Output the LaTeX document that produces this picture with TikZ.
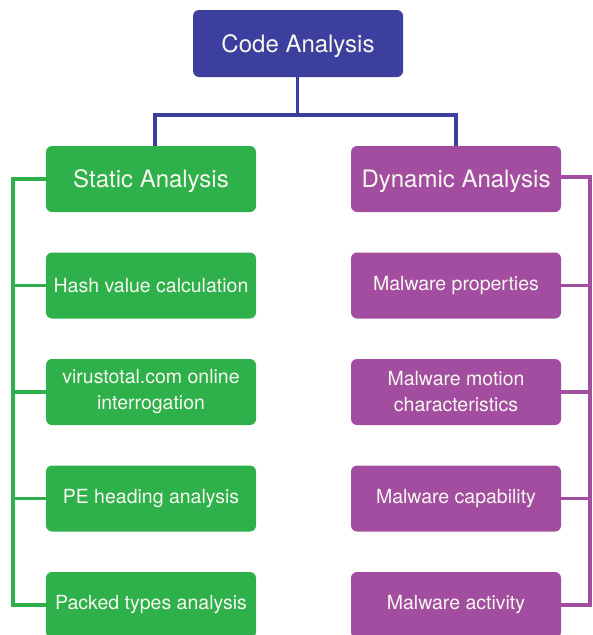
\documentclass[tikz,border=0pt]{standalone}
\usepackage{fontspec}
\setmainfont{TeX Gyre Heros}
\definecolor{rootblue}{HTML}{3C3F9E}
\definecolor{statgreen}{HTML}{2EB04A}
\definecolor{dynpurple}{HTML}{A24DA0}
\definecolor{boxtext}{HTML}{F7F7F0}
\tikzset{
  box/.style={rectangle, rounded corners=6pt, minimum width=210pt, minimum height=66pt,
              inner sep=2pt, align=center, text=boxtext},
  headbox/.style={box, font=\fontsize{24}{30}\selectfont, text depth=0pt},
  itembox/.style={box, font=\fontsize{19.5}{26}\selectfont},
  wire/.style={line width=3.6pt, line join=miter}
}
\begin{document}
\begin{tikzpicture}[x=1pt,y=-1pt]
  \useasboundingbox (0,0) rectangle (593,635);

  % root and the two branches
  \node[headbox, fill=rootblue, minimum height=67pt] (code) at (298,43.5) {Code Analysis};
  \node[headbox, fill=statgreen] (static) at (151,179) {Static Analysis};
  \node[headbox, fill=dynpurple] (dynamic) at (456,179) {Dynamic Analysis};

  % static analysis steps
  \node[itembox, fill=statgreen] (hash) at (151,285.5) {Hash value calculation};
  \node[itembox, fill=statgreen] (vt) at (151,392) {virustotal.com online\\interrogation};
  \node[itembox, fill=statgreen] (pe) at (151,498.5) {PE heading analysis};
  \node[itembox, fill=statgreen] (packed) at (151,605) {Packed types analysis};

  % dynamic analysis steps
  \node[itembox, fill=dynpurple] (props) at (456,285.5) {Malware properties};
  \node[itembox, fill=dynpurple] (motion) at (456,392) {Malware motion\\characteristics};
  \node[itembox, fill=dynpurple] (capab) at (456,498.5) {Malware capability};
  \node[itembox, fill=dynpurple] (activ) at (456,605) {Malware activity};

  % tree from the root
  \coordinate (bar) at (0,115);
  \draw[wire, rootblue] ([xshift=4pt]static.north) -- ([xshift=4pt]static.north |- bar)
        -- ([xshift=-0.5pt]code.south |- bar) -- ([xshift=-0.5pt]code.south);
  \draw[wire, rootblue] (dynamic.north) -- (dynamic.north |- bar) -- ([xshift=-2pt]code.south |- bar);

  % left spine
  \coordinate (spL) at (13,0);
  \draw[wire, statgreen] (static.west) -- (static.west -| spL) -- (packed.west -| spL) -- (packed.west);
  \foreach \n in {hash,vt,pe}
    \draw[wire, statgreen] (\n.west) -- (\n.west -| spL);

  % right spine
  \coordinate (spR) at (590,0);
  \draw[wire, dynpurple] ([yshift=2pt]dynamic.east) -- ([yshift=2pt]dynamic.east -| spR) -- (activ.east -| spR) -- (activ.east);
  \foreach \n in {props,motion,capab}
    \draw[wire, dynpurple] (\n.east) -- (\n.east -| spR);
\end{tikzpicture}
\end{document}
